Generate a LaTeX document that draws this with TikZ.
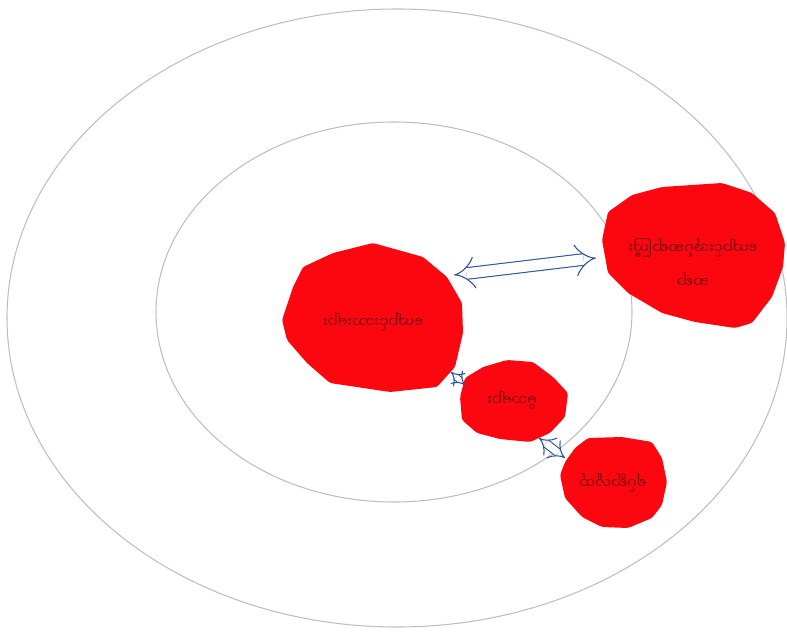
\documentclass[tikz,border=0pt]{standalone}
\usepackage{fontspec}
\newfontfamily\mmfont[Script=Myanmar]{Noto Sans Myanmar UI}
\usetikzlibrary{arrows.meta}

\definecolor{paperred}{RGB}{252,6,16}
\definecolor{inkblue}{RGB}{40,82,145}
\definecolor{pencil}{RGB}{190,190,190}
\definecolor{inkred}{RGB}{125,6,16}

\tikzset{
  ring/.style={draw=pencil, line width=0.6pt},
  blob/.style={fill=paperred, rounded corners=1.5pt},
  mmtext/.style={text=inkred, font=\mmfont\fontsize{8}{10}\selectfont, align=center, rotate=180},
  link/.style={draw=inkblue, double=white, line width=0.6pt, {Implies[length=4.5pt]}-{Implies[length=4.5pt]}}
}

\begin{document}
\begin{tikzpicture}[x=0.02cm, y=-0.02cm]

  \useasboundingbox (0,0) rectangle (787,632);

  % Cercles
  \draw[ring] (397,318) ellipse [x radius=390, y radius=309];
  \draw[ring] (394,312) ellipse [x radius=238, y radius=190];

  % Papiers rouges
  \fill[blob] (373,243) -- (423,257) -- (447,277) -- (462,303) -- (463,333) -- (455,367)
    -- (437,387) -- (390,392) -- (330,383) -- (307,363) -- (287,340) -- (282,320)
    -- (293,287) -- (303,267) -- (333,253) -- cycle;
  \fill[blob] (608,212) -- (632,195) -- (662,187) -- (722,183) -- (752,193) -- (775,213)
    -- (785,243) -- (783,267) -- (772,297) -- (752,323) -- (735,328) -- (695,322)
    -- (662,313) -- (628,293) -- (608,273) -- (602,240) -- cycle;
  \fill[blob] (465,378) -- (483,367) -- (507,360) -- (533,362) -- (553,377) -- (568,393)
    -- (565,417) -- (550,433) -- (530,442) -- (500,439) -- (477,433) -- (462,420)
    -- (460,397) -- cycle;
  \fill[blob] (575,448) -- (588,438) -- (622,437) -- (652,442) -- (662,458) -- (667,482)
    -- (662,505) -- (652,518) -- (628,528) -- (602,527) -- (582,517) -- (565,498)
    -- (560,475) -- (565,462) -- cycle;

  % Textes
  \node[mmtext] (eleves) at (373,322) {ကျောင်းသားများ};
  \node[mmtext] (direction) at (693,262) {ဆရာ\\[8pt]ကျောင်းအုပ်ဆရာကြီး};
  \node[mmtext] (parents) at (512,400) {မိဘများ};
  \node[mmtext] (quartier) at (613,483) {ရပ်ရွာလူထု};

  % Fleches
  \coordinate (a1) at (454,275);
  \coordinate (b1) at (596,258);
  \coordinate (a2) at (451,372);
  \coordinate (b2) at (465,385);
  \coordinate (a3) at (539,438);
  \coordinate (b3) at (565,458);
  \draw[link, double distance=6pt] (a1) -- (b1);
  \draw[link, double distance=3pt] (a2) -- (b2);
  \draw[link, double distance=4pt] (a3) -- (b3);

\end{tikzpicture}
\end{document}
